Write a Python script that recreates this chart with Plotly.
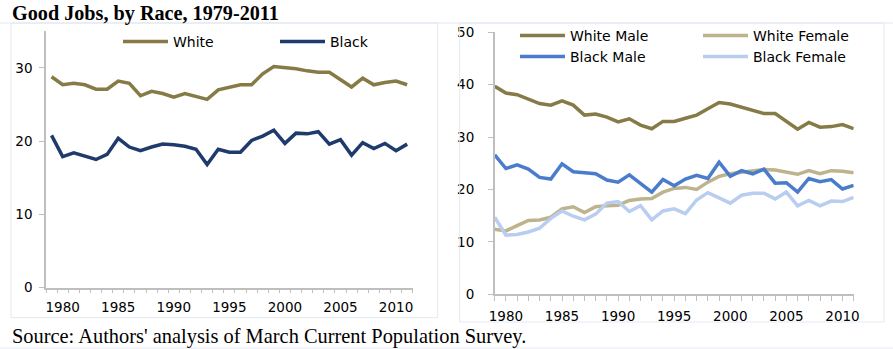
import plotly.graph_objects as go

years = list(range(1979, 2012))

white = [28.8, 27.7, 27.9, 27.7, 27.1, 27.1, 28.2, 27.9, 26.2, 26.8, 26.5, 26.0, 26.5, 26.1, 25.7,
         27.0, 27.3, 27.7, 27.7, 29.2, 30.2, 30.1, 29.9, 29.6, 29.4, 29.4, 28.4, 27.4, 28.6, 27.7,
         28.0, 28.2, 27.7]
black = [20.8, 17.9, 18.4, 18.0, 17.5, 18.2, 20.4, 19.2, 18.7, 19.2, 19.6, 19.5, 19.3, 18.9, 16.8,
         18.9, 18.5, 18.5, 20.1, 20.7, 21.5, 19.7, 21.1, 21.0, 21.3, 19.6, 20.2, 18.1, 19.8, 19.0,
         19.7, 18.7, 19.6]

white_male = [39.7, 38.4, 38.1, 37.2, 36.4, 36.1, 36.9, 36.1, 34.2, 34.4, 33.8, 32.9, 33.5, 32.3, 31.6,
              33.0, 33.0, 33.6, 34.2, 35.4, 36.6, 36.3, 35.7, 35.0, 34.5, 34.5, 33.1, 31.5, 32.8, 31.9,
              32.0, 32.4, 31.6]
white_female = [12.4, 12.1, 13.1, 14.1, 14.2, 14.7, 16.3, 16.7, 15.6, 16.7, 16.9, 17.0, 17.9, 18.2, 18.3,
                19.5, 20.2, 20.4, 20.0, 21.4, 22.5, 23.0, 23.3, 23.5, 23.8, 23.7, 23.3, 22.9, 23.6, 23.0,
                23.6, 23.5, 23.2]
black_male = [26.6, 24.0, 24.7, 23.9, 22.3, 22.0, 24.9, 23.4, 23.2, 23.0, 21.8, 21.4, 22.8, 21.1, 19.5,
              21.9, 20.7, 22.0, 22.7, 22.1, 25.2, 22.5, 23.6, 23.0, 23.9, 21.2, 21.3, 19.5, 22.1, 21.5,
              21.9, 20.1, 20.8]
black_female = [14.7, 11.3, 11.4, 11.9, 12.6, 14.5, 15.9, 14.9, 14.2, 15.3, 17.4, 17.7, 15.8, 16.9, 14.2,
                15.9, 16.3, 15.4, 18.0, 19.4, 18.4, 17.4, 18.9, 19.3, 19.3, 18.2, 19.5, 16.9, 17.9, 16.9,
                17.8, 17.7, 18.5]

x_tick_years = [1980, 1985, 1990, 1995, 2000, 2005, 2010]
x_tick_labels = ["1980", "1985", "1990", "1995", "2000", "2005", "2010"]
left_y_ticks = [0, 10, 20, 30]
right_y_ticks = [0, 10, 20, 30, 40, 50]

title_text = "Good Jobs, by Race, 1979-2011"
source_text = "Source: Authors' analysis of March Current Population Survey."

C_WHITE = "#867B47"
C_BLACK = "#1F3B6E"
C_WM = "#867B47"
C_WF = "#BDB38C"
C_BM = "#4A7CCB"
C_BF = "#B8CDF0"

W, H = 893, 349
def px(v): return v / W
def py(v): return 1 - v / H

fig = go.Figure()
lw = 3.5
fig.add_trace(go.Scatter(x=years, y=white, name="White", mode="lines",
                         line=dict(color=C_WHITE, width=lw), xaxis="x", yaxis="y", legend="legend"))
fig.add_trace(go.Scatter(x=years, y=black, name="Black", mode="lines",
                         line=dict(color=C_BLACK, width=lw), xaxis="x", yaxis="y", legend="legend"))

fig.add_trace(go.Scatter(x=years, y=white_male, name="White Male", mode="lines",
                         line=dict(color=C_WM, width=lw), xaxis="x2", yaxis="y2", legend="legend2"))
fig.add_trace(go.Scatter(x=years, y=white_female, name="White Female", mode="lines",
                         line=dict(color=C_WF, width=lw), xaxis="x2", yaxis="y2", legend="legend2"))
fig.add_trace(go.Scatter(x=years, y=black_male, name="Black Male", mode="lines",
                         line=dict(color=C_BM, width=lw), xaxis="x2", yaxis="y2", legend="legend3"))
fig.add_trace(go.Scatter(x=years, y=black_female, name="Black Female", mode="lines",
                         line=dict(color=C_BF, width=lw), xaxis="x2", yaxis="y2", legend="legend3"))

tickfont = dict(family="DejaVu Sans, Verdana, sans-serif", size=13.5, color="#000")
axcol = "#BFBFBF"

all_right_labels = [str(y) if y in x_tick_years else "" for y in years]

legfont = dict(family="DejaVu Sans, Verdana, sans-serif", size=14, color="#000")

fig.update_layout(
    width=W, height=H,
    margin=dict(l=0, r=0, t=0, b=0, autoexpand=False),
    paper_bgcolor="white", plot_bgcolor="white",
    showlegend=True,
    xaxis=dict(domain=[px(46), px(412.7)], range=[1978.5, 2011.5], anchor="y",
               tickvals=x_tick_years, ticktext=x_tick_labels, ticks="",
               minor=dict(tick0=1978.5, dtick=1, ticks="outside", ticklen=4, tickcolor=axcol, tickwidth=1),
               showline=True, linecolor=axcol, linewidth=1.5, showgrid=False, zeroline=False,
               tickfont=tickfont, ticklabelstandoff=6),
    yaxis=dict(domain=[py(287.7), py(31.3)], range=[0, 35], anchor="x",
               tickvals=left_y_ticks, ticks="outside", ticklen=5, tickcolor=axcol,
               showline=True, linecolor=axcol, linewidth=1.5, showgrid=False, zeroline=False,
               tickfont=tickfont, ticklabelstandoff=4),
    xaxis2=dict(domain=[px(494.7), px(853.7)], range=[1979, 2011], anchor="y2",
                tickvals=years, ticktext=all_right_labels, ticks="outside", ticklen=5, tickcolor=axcol,
                showline=True, linecolor=axcol, linewidth=1.5, showgrid=False, zeroline=False,
                tickfont=tickfont, ticklabelstandoff=4),
    yaxis2=dict(domain=[py(294.3), py(32.3)], range=[0, 50], anchor="x2",
                tickvals=right_y_ticks, ticks="outside", ticklen=5, tickcolor=axcol,
                showline=True, linecolor=axcol, linewidth=1.5, showgrid=False, zeroline=False,
                tickfont=tickfont, ticklabelstandoff=11),
    legend=dict(orientation="h", x=px(118), y=py(42), xanchor="left", yanchor="middle",
                entrywidth=97, entrywidthmode="pixels", itemwidth=45, font=legfont,
                bgcolor="rgba(0,0,0,0)", traceorder="normal"),
    legend2=dict(orientation="h", x=px(515), y=py(36), xanchor="left", yanchor="middle",
                 entrywidth=123, entrywidthmode="pixels", itemwidth=45, font=legfont,
                 bgcolor="rgba(0,0,0,0)", traceorder="normal"),
    legend3=dict(orientation="h", x=px(515), y=py(57), xanchor="left", yanchor="middle",
                 entrywidth=123, entrywidthmode="pixels", itemwidth=45, font=legfont,
                 bgcolor="rgba(0,0,0,0)", traceorder="normal"),
)

bc = "#E3E8F1"
shapes = [
    dict(type="line", xref="paper", yref="paper", x0=0, x1=1, y0=py(23), y1=py(23), line=dict(color=bc, width=1)),
    dict(type="rect", xref="paper", yref="paper", x0=px(11), x1=px(437.7), y0=py(317.7), y1=py(23),
         line=dict(color=bc, width=1)),
    dict(type="rect", xref="paper", yref="paper", x0=px(459.7), x1=px(884), y0=py(322), y1=py(23),
         line=dict(color=bc, width=1)),
    dict(type="line", xref="paper", yref="paper", x0=0, x1=1, y0=py(348), y1=py(348), line=dict(color=bc, width=1)),
]
fig.update_layout(shapes=shapes)

fig.add_annotation(text="<b>" + title_text + "</b>", xref="paper", yref="paper",
                   x=px(10), y=py(13.5), xanchor="left", yanchor="middle", showarrow=False,
                   font=dict(family="Liberation Serif, Times New Roman, serif", size=20.2, color="#000"))
fig.add_annotation(text=source_text, xref="paper", yref="paper",
                   x=px(10), y=py(336), xanchor="left", yanchor="middle", showarrow=False,
                   font=dict(family="Liberation Serif, Times New Roman, serif", size=20.4, color="#000"))

fig.write_html("out.html")
